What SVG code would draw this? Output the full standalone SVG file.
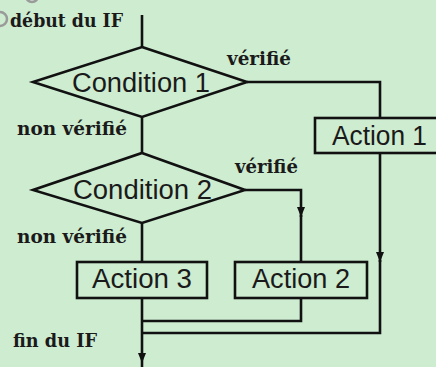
<svg xmlns="http://www.w3.org/2000/svg" width="436" height="367" viewBox="0 0 436 367">
  <defs>
    <marker id="arrow" viewBox="0 0 10 8" refX="10" refY="4" markerWidth="10" markerHeight="8" markerUnits="userSpaceOnUse" orient="auto">
      <path d="M0,0 L10,4 L0,8 z" fill="#111"/>
    </marker>
    <style>
      .bg { fill: #cdecd0; }
      .shape { fill: none; stroke: #111; stroke-width: 2.6; stroke-linejoin: miter; }
      .line { fill: none; stroke: #111; stroke-width: 2.6; }
      .node-text { font-family: "Liberation Sans", Arial, sans-serif; font-size: 27px; fill: #1a1a1a; }
      .label { font-family: "DejaVu Serif", "Liberation Serif", serif; font-size: 18px; font-weight: 600; fill: #1a1a1a; }
      .ring { fill: none; stroke: #9a9a9a; stroke-width: 2.5; }
    </style>
  </defs>
  <rect class="bg" x="0" y="0" width="436" height="367"/>
  <circle class="ring" cx="0" cy="19" r="7"/>
  <circle class="ring" cx="32" cy="-4" r="6"/>

  <g id="connectors">
    <path class="line" d="M142,15 L142,47"/>
    <path class="line" d="M142,117 L142,153"/>
    <path class="line" d="M142,223 L142,262"/>
    <path class="line" d="M142,298 L142,363" marker-end="url(#arrow)"/>
    <path class="line" d="M142,363 L142,367"/>
    <path class="line" d="M247,82 L380,82 L380,118"/>
    <path class="line" d="M380,153 L380,262" marker-end="url(#arrow)"/>
    <path class="line" d="M380,260 L380,333 L142,333"/>
    <path class="line" d="M245,190 L301,190 L301,217" marker-end="url(#arrow)"/>
    <path class="line" d="M301,215 L301,262"/>
    <path class="line" d="M301,298 L301,321 L142,321"/>
    <text class="label" x="10" y="27" textLength="113" lengthAdjust="spacingAndGlyphs">début du IF</text>
    <text class="label" x="227" y="65" textLength="64" lengthAdjust="spacingAndGlyphs">vérifié</text>
    <text class="label" x="17" y="135" textLength="110" lengthAdjust="spacingAndGlyphs">non vérifié</text>
    <text class="label" x="235" y="173" textLength="63" lengthAdjust="spacingAndGlyphs">vérifié</text>
    <text class="label" x="17" y="243" textLength="110" lengthAdjust="spacingAndGlyphs">non vérifié</text>
    <text class="label" x="13" y="347" textLength="84" lengthAdjust="spacingAndGlyphs">fin du IF</text>
  </g>

  <g id="condition1">
    <polygon class="shape" points="142,47 247,82 142,117 33,82"/>
    <text class="node-text" x="72" y="92" textLength="138" lengthAdjust="spacingAndGlyphs">Condition 1</text>
  </g>

  <g id="condition2">
    <polygon class="shape" points="142,153 245,190 142,223 33,190"/>
    <text class="node-text" x="73" y="199" textLength="139" lengthAdjust="spacingAndGlyphs">Condition 2</text>
  </g>

  <g id="action1">
    <rect class="shape" x="315" y="118" width="130" height="35"/>
    <text class="node-text" x="332" y="145" textLength="95" lengthAdjust="spacingAndGlyphs">Action 1</text>
  </g>

  <g id="action3">
    <rect class="shape" x="77" y="262" width="130" height="36"/>
    <text class="node-text" x="92" y="288" textLength="100" lengthAdjust="spacingAndGlyphs">Action 3</text>
  </g>

  <g id="action2">
    <rect class="shape" x="235" y="262" width="132" height="36"/>
    <text class="node-text" x="252" y="288" textLength="98" lengthAdjust="spacingAndGlyphs">Action 2</text>
  </g>
</svg>
